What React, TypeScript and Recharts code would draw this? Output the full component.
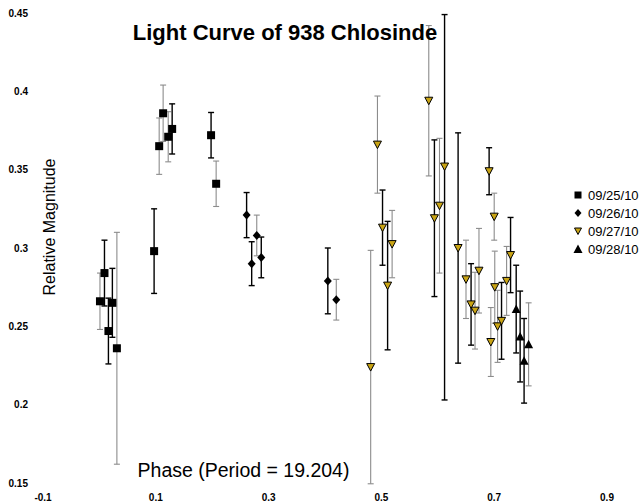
import React from 'react';
import { ScatterChart, Scatter, XAxis, YAxis, ErrorBar } from 'recharts';

const X_TICKS = [-0.1, 0.1, 0.3, 0.5, 0.7, 0.9];
const Y_TICKS = [0.15, 0.2, 0.25, 0.3, 0.35, 0.4, 0.45];
const SERIES_NAMES = ['09/25/10', '09/26/10', '09/27/10', '09/28/10'];

// 09/25/10
const phase25 = [0.001, 0.009, 0.016, 0.023, 0.031, 0.097, 0.106, 0.113, 0.122, 0.129, 0.198, 0.207];
const mag25 = [0.266, 0.284, 0.247, 0.265, 0.236, 0.298, 0.365, 0.386, 0.371, 0.376, 0.372, 0.341];
const err25: (number | number[])[] = [0.018, 0.021, 0.021, 0.022, 0.074, 0.027, 0.018, 0.018, 0.016, 0.016, 0.0145, 0.0145];

// 09/26/10
const phase26 = [0.261, 0.27, 0.279, 0.287, 0.405, 0.42];
const mag26 = [0.321, 0.29, 0.308, 0.294, 0.279, 0.267];
const err26: (number | number[])[] = [0.0144, 0.014, 0.013, 0.013, 0.021, 0.013];

// 09/27/10  (the long bar at 0.612 runs off the top of the plot: [below, above])
const phase27 = [0.481, 0.493, 0.502, 0.511, 0.519, 0.584, 0.594, 0.603, 0.612, 0.636, 0.65, 0.659, 0.666, 0.673, 0.691, 0.694, 0.7, 0.701, 0.706, 0.713, 0.722, 0.729];
const mag27 = [0.224, 0.366, 0.313, 0.276, 0.3025, 0.394, 0.319, 0.327, 0.352, 0.3, 0.28, 0.264, 0.26, 0.2855, 0.349, 0.24, 0.32, 0.275, 0.25, 0.2535, 0.279, 0.2955];
const err27: (number | number[])[] = [0.0745, 0.031, 0.024, 0.041, 0.0215, 0.048, 0.05, 0.043, [0.149, 0.097], 0.0735, 0.025, 0.026, 0.0245, 0.027, 0.015, 0.022, 0.015, 0.023, 0.023, 0.0245, 0.022, 0.024];

// 09/28/10
const phase28 = [0.739, 0.746, 0.753, 0.761];
const mag28 = [0.261, 0.2435, 0.228, 0.2385];
const err28: (number | number[])[] = [0.028, 0.029, 0.027, 0.0265];

// which error bars are drawn grey (1) rather than black (0)
const greyBar25 = [1, 0, 0, 0, 1, 0, 1, 1, 1, 0, 0, 1];
const greyBar26 = [0, 0, 1, 0, 0, 1];
const greyBar27 = [1, 1, 0, 0, 1, 1, 0, 1, 0, 0, 1, 0, 1, 1, 0, 1, 1, 1, 1, 0, 1, 0];
const greyBar28 = [0, 0, 0, 1];

const FONT = 'Arial, "Liberation Sans", sans-serif';
const YELLOW = '#C9A414';

const Square = (p: any) => <rect x={p.cx - 4} y={p.cy - 4} width={8} height={8} fill="#000" />;
const Diamond = (p: any) => (
  <polygon points={`${p.cx},${p.cy - 4.5} ${p.cx + 4},${p.cy} ${p.cx},${p.cy + 4.5} ${p.cx - 4},${p.cy}`} fill="#000" />
);
const TriDown = (p: any) => (
  <polygon points={`${p.cx - 4},${p.cy - 3.5} ${p.cx + 4},${p.cy - 3.5} ${p.cx},${p.cy + 4}`} fill={YELLOW} stroke="#000" strokeWidth={1} />
);
const TriUp = (p: any) => (
  <polygon points={`${p.cx - 4.5},${p.cy + 4} ${p.cx + 4.5},${p.cy + 4} ${p.cx},${p.cy - 4.5}`} fill="#000" />
);

const build = (phase: number[], mag: number[], err: (number | number[])[]) =>
  phase.map((p, i) => ({ phase: p, mag: mag[i], err: err[i] }));

const SERIES = [
  { name: SERIES_NAMES[0], data: build(phase25, mag25, err25), grey: greyBar25, shape: Square },
  { name: SERIES_NAMES[1], data: build(phase26, mag26, err26), grey: greyBar26, shape: Diamond },
  { name: SERIES_NAMES[2], data: build(phase27, mag27, err27), grey: greyBar27, shape: TriDown },
  { name: SERIES_NAMES[3], data: build(phase28, mag28, err28), grey: greyBar28, shape: TriUp },
];

const tickStyle = { fontSize: 10, fontWeight: 'bold' as const, fill: '#000', fontFamily: FONT };

const legendIcon = (i: number, cx: number, cy: number) => {
  if (i === 0) return <rect x={cx - 3.5} y={cy - 3.5} width={7} height={7} fill="#000" />;
  if (i === 1) return <polygon points={`${cx},${cy - 4} ${cx + 3.5},${cy} ${cx},${cy + 4} ${cx - 3.5},${cy}`} fill="#000" />;
  if (i === 2)
    return <polygon points={`${cx - 3.5},${cy - 3} ${cx + 3.5},${cy - 3} ${cx},${cy + 3.5}`} fill={YELLOW} stroke="#000" strokeWidth={1} />;
  return <polygon points={`${cx - 4.5},${cy + 4} ${cx + 4.5},${cy + 4} ${cx},${cy - 4.5}`} fill="#000" />;
};

export default function App() {
  return (
    <div style={{ position: 'absolute', left: 0, top: 0, width: 640, height: 504, background: '#fff' }}>
      <ScatterChart width={640} height={504} margin={{ top: 13, right: 33, bottom: 0, left: 0 }}>
        <XAxis
          type="number"
          dataKey="phase"
          domain={[-0.1, 0.9]}
          ticks={X_TICKS}
          allowDataOverflow
          axisLine={false}
          tickLine={false}
          tickSize={0}
          tickMargin={11}
          height={21}
          tick={tickStyle}
          interval={0}
        />
        <YAxis
          type="number"
          dataKey="mag"
          domain={[0.15, 0.45]}
          ticks={Y_TICKS}
          allowDataOverflow
          axisLine={false}
          tickLine={false}
          tickSize={0}
          tickMargin={15}
          width={43}
          tick={tickStyle}
          interval={0}
        />
        {SERIES.flatMap((s, si) =>
          [1, 0].map((g) => (
            <Scatter
              key={`${si}-${g}`}
              name={s.name}
              data={s.data.filter((_, i) => s.grey[i] === g)}
              shape={s.shape}
              isAnimationActive={false}
            >
              <ErrorBar
                dataKey="err"
                direction="y"
                width={3}
                stroke={g ? '#8c8c8c' : '#000'}
                strokeWidth={g ? 1.1 : 1.4}
                isAnimationActive={false}
              />
            </Scatter>
          ))
        )}
      </ScatterChart>
      <svg
        width={640}
        height={504}
        style={{ position: 'absolute', left: 0, top: 0, pointerEvents: 'none' }}
      >
        <text x={285} y={40} textAnchor="middle" fontFamily={FONT} fontWeight="bold" fontSize={22} fill="#000">
          Light Curve of 938 Chlosinde
        </text>
        <text x={243.5} y={477} textAnchor="middle" fontFamily={FONT} fontSize={19.5} fill="#000">
          Phase (Period = 19.204)
        </text>
        <text transform="translate(55,227) rotate(-90)" textAnchor="middle" fontFamily={FONT} fontSize={16} fill="#000">
          Relative Magnitude
        </text>
        {SERIES.map((s, i) => (
          <g key={s.name}>
            {legendIcon(i, 578, 195 + i * 18)}
            <text x={588} y={195 + i * 18 + 4.5} fontFamily={FONT} fontSize={13} fill="#000">
              {s.name}
            </text>
          </g>
        ))}
      </svg>
    </div>
  );
}
